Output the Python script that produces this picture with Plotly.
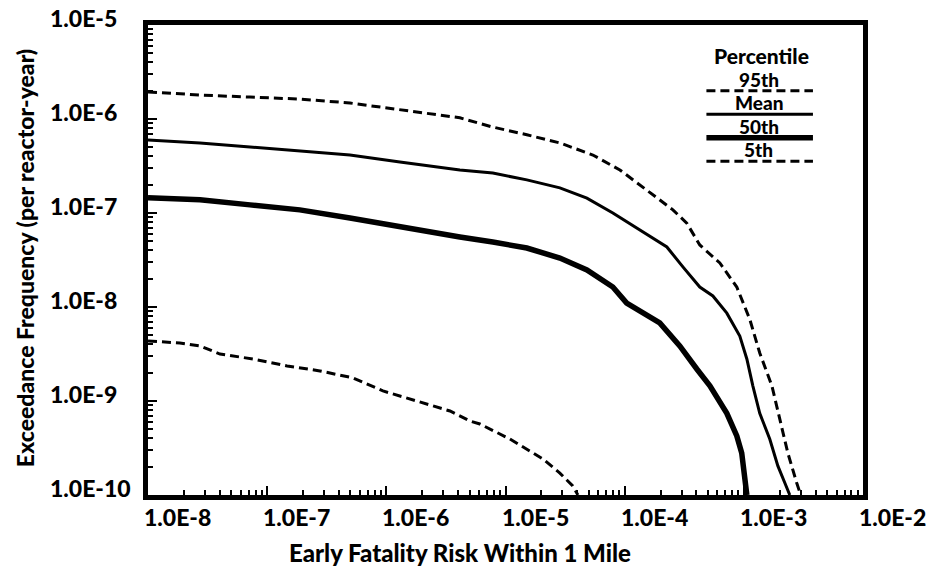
import math
import plotly.graph_objects as go

# Early fatality risk within 1 mile (x) vs. exceedance frequency per reactor-year (y)
p95_risk = [1.0e-8, 2.73e-8, 7.18e-8, 1.88e-7, 4.95e-7, 1.30e-6, 4.14e-6, 7.83e-6,
            1.51e-5, 2.86e-5, 5.41e-5, 9.12e-5, 1.54e-4, 2.54e-4, 3.32e-4, 4.27e-4,
            6.29e-4, 8.73e-4, 1.12e-3, 1.36e-3, 1.72e-3, 2.0e-3, 2.34e-3, 2.78e-3, 3.0e-3]
p95_freq = [1.94e-6, 1.80e-6, 1.71e-6, 1.63e-6, 1.48e-6, 1.25e-6, 1.03e-6, 8.2e-7,
            6.8e-7, 5.56e-7, 4.14e-7, 2.87e-7, 1.76e-7, 1.08e-7, 7.8e-8, 4.57e-8,
            2.94e-8, 1.63e-8, 7.45e-9, 3.24e-9, 1.45e-9, 6.4e-10, 2.8e-10, 1.34e-10, 1.0e-10]

mean_risk = [1.0e-8, 2.73e-8, 7.18e-8, 1.88e-7, 4.95e-7, 1.30e-6, 4.14e-6, 7.83e-6,
             1.51e-5, 2.86e-5, 4.82e-5, 7.96e-5, 1.34e-4, 2.26e-4, 3.08e-4, 4.27e-4,
             5.5e-4, 7.2e-4, 9.25e-4, 1.06e-3, 1.19e-3, 1.36e-3, 1.65e-3, 1.93e-3, 2.21e-3, 2.43e-3]
mean_freq = [5.98e-7, 5.56e-7, 5.04e-7, 4.57e-7, 4.14e-7, 3.49e-7, 2.87e-7, 2.66e-7,
             2.25e-7, 1.85e-7, 1.44e-7, 1.0e-7, 6.6e-8, 4.35e-8, 2.67e-8, 1.63e-8,
             1.31e-8, 8.6e-9, 4.9e-9, 2.8e-9, 1.45e-9, 7.4e-10, 3.94e-10, 2.04e-10, 1.34e-10, 1.0e-10]

p50_risk = [1.0e-8, 2.73e-8, 7.18e-8, 1.88e-7, 4.95e-7, 1.30e-6, 4.14e-6, 7.83e-6,
            1.51e-5, 2.86e-5, 4.82e-5, 7.96e-5, 1.04e-4, 1.97e-4, 2.90e-4, 4.03e-4,
            5.19e-4, 7.2e-4, 8.73e-4, 9.6e-4, 1.02e-3, 1.06e-3]
p50_freq = [1.45e-7, 1.38e-7, 1.22e-7, 1.08e-7, 8.85e-8, 7.1e-8, 5.56e-8, 4.91e-8,
            4.24e-8, 3.32e-8, 2.48e-8, 1.63e-8, 1.10e-8, 6.76e-9, 3.85e-9, 2.19e-9,
            1.45e-9, 7.4e-10, 4.25e-10, 2.8e-10, 1.25e-10, 1.0e-10]

p5_risk = [1.0e-8, 1.85e-8, 2.73e-8, 4.02e-8, 7.6e-8, 1.47e-7, 2.77e-7, 5.25e-7,
           9.36e-7, 1.81e-6, 3.42e-6, 5.03e-6, 6.1e-6, 1.09e-5, 2.06e-5, 2.86e-5,
           3.67e-5, 4.05e-5]
p5_freq = [4.35e-9, 4.14e-9, 3.85e-9, 3.16e-9, 2.8e-9, 2.36e-9, 2.09e-9, 1.76e-9,
           1.28e-9, 1.0e-9, 7.83e-10, 6.12e-10, 5.69e-10, 3.94e-10, 2.42e-10, 1.71e-10,
           1.25e-10, 1.0e-10]

x_tickvals = [1e-8, 1e-7, 1e-6, 1e-5, 1e-4, 1e-3, 1e-2]
x_ticktext = ["1.0E-8", "1.0E-7", "1.0E-6", "1.0E-5", "1.0E-4", "1.0E-3", "1.0E-2"]
y_tickvals = [1e-10, 1e-9, 1e-8, 1e-7, 1e-6, 1e-5]
y_ticktext = ["1.0E-10", "1.0E-9", "1.0E-8", "1.0E-7", "1.0E-6", "1.0E-5"]

legend_labels = ["95th", "Mean", "50th", "5th"]

FONT = "Lato"
DASH = "9px,5px"

styles = [
    dict(width=3, dash=DASH),      # 95th
    dict(width=3, dash="solid"),   # Mean
    dict(width=5.5, dash="solid"), # 50th
    dict(width=3, dash=DASH),      # 5th
]
series = [(p95_risk, p95_freq), (mean_risk, mean_freq), (p50_risk, p50_freq), (p5_risk, p5_freq)]

fig = go.Figure()
for (xs, ys), st, name in zip(series, styles, legend_labels):
    fig.add_trace(go.Scatter(x=xs, y=ys, mode="lines", name=name,
                             line=dict(color="black", **st), showlegend=False))

axis_style = dict(
    type="log", showline=True, linecolor="black", linewidth=4.5, mirror=True,
    ticks="inside", ticklen=9, tickwidth=2, tickcolor="black",
    showgrid=False, zeroline=False,
    minor=dict(ticks="inside", ticklen=5, tickwidth=2, tickcolor="black",
               dtick="D1", showgrid=False),
)

# decade ticks come from the axes; their texts are placed as annotations below
fig.update_xaxes(range=[-8, -2], tickvals=x_tickvals, ticktext=[""] * len(x_tickvals),
                 **axis_style)
fig.update_yaxes(range=[-10, -5], tickvals=y_tickvals, ticktext=[""] * len(y_tickvals),
                 **axis_style)

label_font = dict(family=FONT, size=23, color="black", weight=900)
annotations = []

# decade labels: x labels start at their tick, y labels are left-aligned in a column
for v, t in zip(x_tickvals, x_ticktext):
    annotations.append(dict(text=t, xref="x", yref="paper", x=math.log10(v), y=0,
                            xanchor="left", yanchor="top", xshift=-6, yshift=-6,
                            showarrow=False, font=label_font))
for v, t in zip(y_tickvals, y_ticktext):
    annotations.append(dict(text=t, xref="paper", yref="y", x=-0.1399, y=math.log10(v),
                            xanchor="left", yanchor="middle", yshift=7,
                            showarrow=False, font=label_font))

annotations += [
    dict(text="Early Fatality Risk Within 1 Mile", xref="paper", yref="paper",
         x=0.436, y=-0.123, xanchor="center", yanchor="middle", showarrow=False,
         font=dict(family=FONT, size=24, color="black", weight=900)),
    dict(text="Exceedance Frequency (per reactor-year)", xref="paper", yref="paper",
         x=-0.172, y=0.504, xanchor="center", yanchor="middle", textangle=-90,
         showarrow=False, font=dict(family=FONT, size=23, color="black", weight=900)),
    dict(text="Percentile", xref="paper", yref="paper", x=0.858, y=0.936,
         xanchor="center", yanchor="middle", showarrow=False,
         font=dict(family=FONT, size=21, color="black", weight=900)),
]

# Legend key: a label sitting on top of a sample of each line
shapes = []
row_top = 0.885
row_step = 0.05
for i, (label, st) in enumerate(zip(legend_labels, styles)):
    y_line = row_top - i * row_step - 0.025
    annotations.append(dict(text=label, xref="paper", yref="paper", x=0.854,
                            y=y_line, xanchor="center", yanchor="bottom", yshift=-2,
                            showarrow=False,
                            font=dict(family=FONT, size=19, color="black", weight=900)))
    shapes.append(dict(type="line", xref="paper", yref="paper", x0=0.781, x1=0.93,
                       y0=y_line, y1=y_line,
                       line=dict(color="black", width=st["width"], dash=st["dash"])))

fig.update_layout(
    width=930, height=576,
    margin=dict(l=148, r=67, t=25, b=81),
    plot_bgcolor="white", paper_bgcolor="white",
    annotations=annotations, shapes=shapes,
    font=dict(family=FONT, color="black"),
)

fig.write_html("out.html")
